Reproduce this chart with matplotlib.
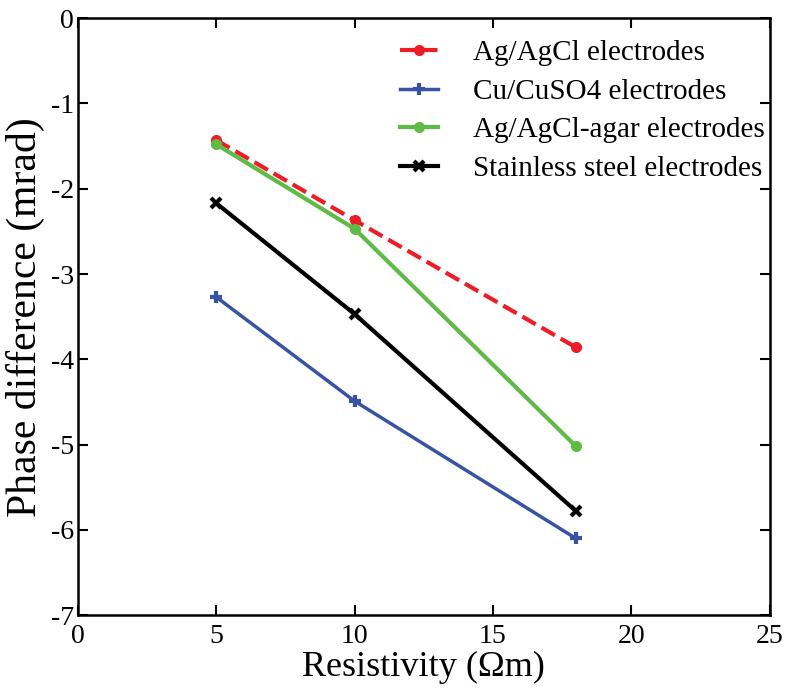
import matplotlib.pyplot as plt

plt.rcParams['font.family'] = ['Liberation Serif', 'DejaVu Serif']

# Data
resistivity = [5, 10, 18]
ag_agcl = [-1.43, -2.37, -3.86]
cu_cuso4 = [-3.27, -4.49, -6.10]
ag_agcl_agar = [-1.48, -2.47, -5.02]
stainless = [-2.17, -3.47, -5.78]

fig = plt.figure(figsize=(7.87, 6.96), dpi=100)
ax = fig.add_axes([0.099, 0.116, 0.879, 0.858])

ax.plot(resistivity, ag_agcl, '--', color='#ee1c24', lw=3, marker='o', ms=7,
        label='Ag/AgCl electrodes')
ax.plot(resistivity, cu_cuso4, '-', color='#3953a4', lw=2.5, marker='+', ms=9, mew=3,
        label='Cu/CuSO4 electrodes')
ax.plot(resistivity, ag_agcl_agar, '-', color='#5fbb46', lw=3, marker='o', ms=7,
        label='Ag/AgCl-agar electrodes')
ax.plot(resistivity, stainless, '-', color='black', lw=3, marker='x', ms=7, mew=3,
        label='Stainless steel electrodes')

ax.set_xlim(0, 25)
ax.set_ylim(-7, 0)
ax.set_xticks([0, 5, 10, 15, 20, 25])
ax.set_yticks(range(-7, 1))
ax.set_yticklabels([str(v) for v in range(-7, 1)])
ax.tick_params(direction='in', top=True, right=True, labelsize=20, length=7, width=1.5)
ax.tick_params(axis='x', pad=6)
ax.tick_params(axis='y', pad=3)
for s in ax.spines.values():
    s.set_linewidth(1.8)

ax.set_xlabel('Resistivity (Ωm)', fontsize=26, labelpad=2)
ax.set_ylabel('Phase difference (mrad)', fontsize=30, labelpad=4)

ax.legend(loc='upper right', frameon=False, fontsize=21, handlelength=1.3,
          labelspacing=0.42, handletextpad=1.2, borderaxespad=0.3,
          bbox_to_anchor=(1.022, 0.998))

fig.savefig('out.png', dpi=100)
